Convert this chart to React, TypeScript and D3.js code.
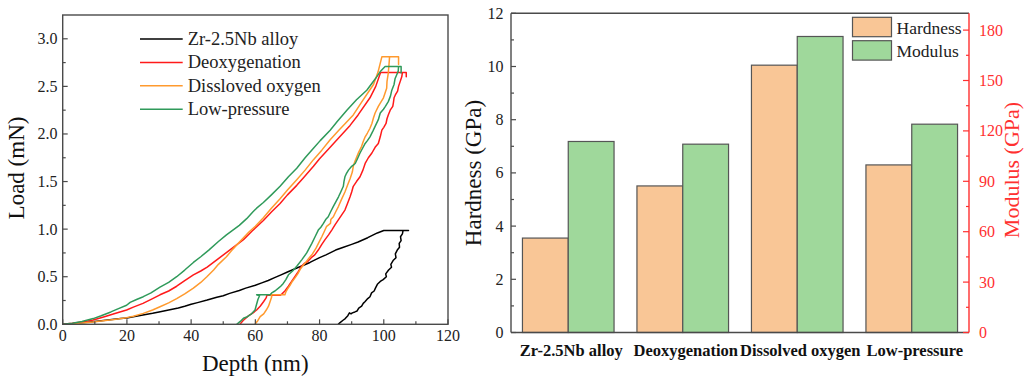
import React from 'react';
import * as d3 from 'd3';

// ---------- Left chart data (load-depth curves) ----------
const depthTicks = [0, 20, 40, 60, 80, 100, 120];
const loadTicks = [0, 0.5, 1.0, 1.5, 2.0, 2.5, 3.0];
const seriesNames = ['Zr-2.5Nb alloy', 'Deoxygenation', 'Dissloved oxygen', 'Low-pressure'];
const seriesColors = ['#000000', '#ff1a1a', '#ff9a2e', '#2f9a5a'];

const zrCurve: [number, number][] = [
  [0, 0], [3, 0.005], [6, 0.015], [10, 0.03], [14, 0.045], [18, 0.06], [20, 0.067], [22, 0.08], [25, 0.097],
  [28, 0.115], [30, 0.13], [33, 0.15], [36, 0.172], [38, 0.19], [40, 0.21], [42, 0.228], [45, 0.255],
  [48, 0.285], [50, 0.3], [52, 0.325], [55, 0.355], [57, 0.38], [60, 0.41], [62, 0.435], [64, 0.46],
  [66, 0.49], [68, 0.52], [70, 0.55], [72, 0.578], [75, 0.62], [77, 0.65], [80, 0.7], [82, 0.73],
  [85, 0.78], [87, 0.805], [90, 0.84], [92, 0.865], [95, 0.91], [98, 0.96], [100, 0.985],
  [103, 0.985], [106, 0.985], [107.7, 0.985],
  [106.0, 0.985], [105.8, 0.95], [105.2, 0.92], [105.4, 0.88], [104.8, 0.85], [104.9, 0.81], [104.2, 0.78],
  [103.6, 0.74], [103.8, 0.7], [102.9, 0.67], [102.2, 0.63], [102.4, 0.6], [101.5, 0.57], [100.6, 0.53],
  [100.8, 0.5], [99.8, 0.47], [98.9, 0.45], [98.0, 0.42], [97.4, 0.38], [97.0, 0.35], [96.2, 0.33],
  [95.7, 0.29], [95.0, 0.27], [94.2, 0.24], [93.6, 0.22], [93.1, 0.19], [92.2, 0.17], [91.7, 0.14],
  [91.0, 0.13], [90.2, 0.12], [89.8, 0.11], [89.3, 0.12], [88.8, 0.09], [88.0, 0.06], [87.2, 0.04],
  [86.3, 0.015], [85.8, 0],
];

const deoxCurve: [number, number][] = [
  [0, 0], [3, 0.01], [6, 0.025], [9.5, 0.045], [13, 0.08], [16, 0.11], [19.9, 0.15], [22, 0.18], [25, 0.22],
  [28, 0.27], [30.3, 0.31], [33, 0.35], [35.5, 0.4], [38, 0.46], [40.7, 0.52], [43, 0.56], [45, 0.6],
  [48.5, 0.69], [52, 0.78], [56.3, 0.89], [59, 0.98], [62.5, 1.09], [65, 1.18], [67.7, 1.27], [70, 1.36],
  [72.9, 1.46], [75, 1.54], [78.1, 1.66], [80, 1.74], [83.3, 1.86], [86, 1.96], [89.5, 2.09], [92, 2.2],
  [95.7, 2.38], [97.5, 2.5], [99, 2.645],
  [103, 2.645], [107, 2.645], [107, 2.6], [107, 2.645], [105.8, 2.645],
  [105.6, 2.6], [105.1, 2.55], [104.6, 2.5], [104.3, 2.45], [103.6, 2.41], [103.2, 2.38], [103.0, 2.33],
  [102.8, 2.29], [102.0, 2.25], [101.4, 2.2], [101.0, 2.16], [100.7, 2.11], [100.0, 2.07], [99.4, 2.04],
  [98.9, 1.97], [98.3, 1.9], [97.3, 1.86], [96.3, 1.8], [95.2, 1.75], [94.2, 1.69], [93.5, 1.62],
  [92.6, 1.55], [91.5, 1.5], [90.5, 1.45], [90.0, 1.39], [89.5, 1.34], [88.7, 1.27], [87.9, 1.2],
  [86.9, 1.15], [85.9, 1.1], [84.9, 1.05], [83.8, 0.99], [82.8, 0.94], [81.7, 0.89], [80.7, 0.84],
  [79.6, 0.78], [78.5, 0.73], [77.4, 0.7], [76.3, 0.66], [75.3, 0.64], [74.4, 0.61], [73.3, 0.55],
  [72.3, 0.5], [71.3, 0.45], [70.3, 0.4], [69.2, 0.35], [68.3, 0.32], [67.7, 0.305], [66.6, 0.305],
  [65.2, 0.305], [63.6, 0.305], [63.4, 0.28], [62.6, 0.24], [61.5, 0.19], [60.4, 0.15], [59.3, 0.12],
  [58.3, 0.1], [57.2, 0.07], [56.2, 0.04], [55.2, 0],
];

const dissolvedCurve: [number, number][] = [
  [0, 0], [4, 0.008], [8, 0.02], [12, 0.035], [16, 0.05], [19.9, 0.07], [22, 0.085], [25.1, 0.115],
  [28, 0.15], [30.3, 0.185], [33, 0.225], [35.5, 0.27], [38, 0.32], [40.7, 0.38], [43, 0.44], [44.9, 0.5],
  [47, 0.57], [48.5, 0.63], [51, 0.71], [53, 0.79], [55.2, 0.87], [58, 0.97], [60, 1.03], [62.5, 1.12],
  [65, 1.22], [67.7, 1.32], [70, 1.41], [72.9, 1.52], [75.5, 1.62], [78.1, 1.73], [80.7, 1.83],
  [83.3, 1.94], [86, 2.04], [88, 2.11], [90.5, 2.2], [93, 2.33], [95, 2.43], [96.8, 2.52], [98.2, 2.65],
  [99.4, 2.81],
  [102, 2.81], [104.6, 2.81], [104.6, 2.73], [104.6, 2.81], [101.8, 2.81],
  [101.6, 2.72], [101.4, 2.64], [101.0, 2.55], [100.9, 2.48], [100.3, 2.42], [99.9, 2.38], [99.0, 2.33],
  [98.3, 2.29], [97.3, 2.22], [96.8, 2.17], [96.3, 2.11], [95.7, 2.06], [94.9, 2.01], [94.2, 1.97],
  [93.6, 1.92], [93.1, 1.87], [92.2, 1.81], [91.6, 1.76], [91.0, 1.71], [90.5, 1.66], [90.2, 1.6],
  [89.5, 1.53], [88.7, 1.46], [87.9, 1.39], [86.8, 1.31], [85.9, 1.24], [85.0, 1.18], [84.3, 1.13],
  [83.5, 1.1], [83.4, 1.06], [82.2, 1.03], [81.4, 0.97], [80.7, 0.92], [79.8, 0.86], [78.9, 0.8],
  [77.8, 0.74], [76.8, 0.7], [75.9, 0.66], [74.9, 0.62], [74.0, 0.58], [73.2, 0.53], [72.4, 0.49],
  [71.5, 0.45], [70.8, 0.41], [70.0, 0.37], [69.5, 0.34], [69.2, 0.31], [67.5, 0.31], [66.0, 0.31],
  [64.8, 0.31], [65.1, 0.29], [64.6, 0.24], [64.1, 0.19], [63.4, 0.15], [62.6, 0.11], [61.5, 0.08],
  [60.8, 0.04], [59.9, 0],
];

const lowPressureCurve: [number, number][] = [
  [0, 0], [3, 0.01], [6, 0.03], [9.5, 0.06], [12, 0.09], [15, 0.13], [17, 0.16], [19.9, 0.2], [21, 0.23],
  [23, 0.26], [25.1, 0.29], [27.5, 0.33], [30.3, 0.39], [33, 0.44], [35.5, 0.5], [38, 0.57], [40.7, 0.65],
  [43, 0.71], [45.5, 0.78], [48.5, 0.87], [51, 0.94], [53, 0.99], [55, 1.04], [57.3, 1.11], [59.2, 1.18],
  [60.4, 1.22], [62.5, 1.28], [65, 1.36], [67.7, 1.45], [70.3, 1.55], [72.9, 1.64], [75.5, 1.75],
  [78.1, 1.85], [80.2, 1.93], [83.3, 2.04], [85.5, 2.13], [88.5, 2.25], [91.5, 2.36], [94.7, 2.46],
  [96.5, 2.54], [97.8, 2.6], [99, 2.66], [100.4, 2.71],
  [103, 2.71], [105.4, 2.71], [105.4, 2.64], [105.4, 2.71], [104.6, 2.71],
  [104.5, 2.66], [104.0, 2.62], [103.5, 2.58], [103.2, 2.52], [102.5, 2.46], [102.1, 2.4], [101.4, 2.34],
  [100.5, 2.29], [99.9, 2.26], [98.9, 2.22], [98.3, 2.15], [97.3, 2.08], [96.6, 2.03], [95.7, 1.97],
  [94.9, 1.93], [94.2, 1.9], [93.4, 1.85], [92.6, 1.8], [91.8, 1.74], [91.1, 1.69], [90.0, 1.66],
  [89.0, 1.62], [88.3, 1.58], [87.9, 1.55], [87.6, 1.5], [87.4, 1.45], [86.6, 1.39], [85.9, 1.34],
  [85.1, 1.29], [84.3, 1.24], [83.4, 1.18], [82.7, 1.13], [81.9, 1.1], [81.2, 1.06], [80.4, 1.02],
  [79.6, 0.99], [78.6, 0.92], [77.6, 0.85], [76.8, 0.8], [76.0, 0.75], [74.5, 0.68], [72.9, 0.61],
  [71.6, 0.56], [70.3, 0.52], [69.5, 0.47], [68.7, 0.43], [67.9, 0.4], [67.2, 0.38], [66.1, 0.35],
  [65.1, 0.33], [64.6, 0.31], [62.5, 0.31], [60.4, 0.31], [61.3, 0.3], [60.8, 0.26], [60.3, 0.2],
  [59.9, 0.15], [58.8, 0.11], [57.5, 0.08], [56.3, 0.063], [55.3, 0.03], [54.2, 0],
];

const curves = [zrCurve, deoxCurve, dissolvedCurve, lowPressureCurve];

// ---------- Right chart data (bars) ----------
const categories = ['Zr-2.5Nb alloy', 'Deoxygenation', 'Dissolved oxygen', 'Low-pressure'];
const barSeries = ['Hardness', 'Modulus'];
const hardness = [3.55, 5.51, 10.05, 6.3];
const modulus = [113.7, 112.1, 176.2, 124.0];
const hardnessTicks = [0, 2, 4, 6, 8, 10, 12];
const modulusTicks = [0, 30, 60, 90, 120, 150, 180];

const FONT = '"Liberation Serif", "Times New Roman", serif';
const AXIS = '#4a4a4a';
const RED = '#ff3030';

export default function App() {
  // Left chart scales
  const xL = d3.scaleLinear().domain([0, 120]).range([62.7, 448]);
  const yL = d3.scaleLinear().domain([0, 3.25]).range([324.3, 15]);
  const line = d3.line<[number, number]>().x((d) => xL(d[0])).y((d) => yL(d[1]));
  const xMinor = d3.range(10, 120, 20);
  const yMinor = d3.range(0.25, 3.25, 0.5);

  // Right chart scales
  const x0 = d3.scaleBand<string>().domain(categories).range([511, 969]).paddingInner(0.2).paddingOuter(0.1);
  const x1 = d3.scaleBand<string>().domain(barSeries).range([0, x0.bandwidth()]);
  const yH = d3.scaleLinear().domain([0, 12]).range([332.5, 13.3]);
  const yM = d3.scaleLinear().domain([0, 190]).range([332.5, 13.3]);
  const hMinor = d3.range(1, 12, 2);
  const mMinor = d3.range(15, 190, 30);
  const barFill = ['#f9c696', '#9fd89b'];

  return (
    <svg width={1025} height={378} style={{ position: 'absolute', left: 0, top: 0, background: '#fff' }} fontFamily={FONT}>
      <rect x={0} y={0} width={1025} height={378} fill="#fff" />
      {/* ===== Left chart ===== */}
      <g>
        {curves.map((c, i) => (
          <path key={i} d={line(c) || ''} fill="none" stroke={seriesColors[i]} strokeWidth={1.5} strokeLinejoin="round" />
        ))}
        <rect x={xL(0)} y={yL(3.25)} width={xL(120) - xL(0)} height={yL(0) - yL(3.25)} fill="none" stroke={AXIS} strokeWidth={1.4} />
        {depthTicks.map((t) => (
          <g key={'xt' + t}>
            <line x1={xL(t)} x2={xL(t)} y1={yL(0)} y2={yL(0) - 5} stroke={AXIS} strokeWidth={1.2} />
            <text x={xL(t)} y={341} fontSize={16} textAnchor="middle" fill="#222">{t}</text>
          </g>
        ))}
        {xMinor.map((t) => (
          <line key={'xm' + t} x1={xL(t)} x2={xL(t)} y1={yL(0)} y2={yL(0) - 3} stroke={AXIS} strokeWidth={1.2} />
        ))}
        {loadTicks.map((t) => (
          <g key={'yt' + t}>
            <line x1={xL(0)} x2={xL(0) + 5} y1={yL(t)} y2={yL(t)} stroke={AXIS} strokeWidth={1.2} />
            <text x={57.5} y={yL(t) + 5.5} fontSize={16} textAnchor="end" fill="#222">{t.toFixed(1)}</text>
          </g>
        ))}
        {yMinor.map((t) => (
          <line key={'ym' + t} x1={xL(0)} x2={xL(0) + 3} y1={yL(t)} y2={yL(t)} stroke={AXIS} strokeWidth={1.2} />
        ))}
        <text x={255.3} y={371} fontSize={23} textAnchor="middle" fill="#111">Depth (nm)</text>
        <text transform={`translate(24,168) rotate(-90)`} fontSize={23} textAnchor="middle" fill="#111">Load (mN)</text>
        {seriesNames.map((n, i) => {
          const cy = 39 + i * 23.4;
          return (
            <g key={'lg' + i}>
              <line x1={140} x2={182.7} y1={cy} y2={cy} stroke={seriesColors[i]} strokeWidth={1.5} />
              <text x={187.7} y={cy + 6} fontSize={18.5} fill="#222">{n}</text>
            </g>
          );
        })}
      </g>

      {/* ===== Right chart ===== */}
      <g>
        {categories.map((c, i) => (
          <g key={'bar' + c} transform={`translate(${x0(c)},0)`}>
            <rect x={x1('Hardness')} y={yH(hardness[i])} width={x1.bandwidth()} height={yH(0) - yH(hardness[i])}
              fill={barFill[0]} stroke="#555" strokeWidth={1.2} />
            <rect x={x1('Modulus')} y={yM(modulus[i])} width={x1.bandwidth()} height={yM(0) - yM(modulus[i])}
              fill={barFill[1]} stroke="#555" strokeWidth={1.2} />
          </g>
        ))}
        <line x1={511} x2={969} y1={yH(12)} y2={yH(12)} stroke={AXIS} strokeWidth={1.4} />
        <line x1={511} x2={969} y1={yH(0)} y2={yH(0)} stroke={AXIS} strokeWidth={1.4} />
        <line x1={511} x2={511} y1={yH(0)} y2={yH(12)} stroke={AXIS} strokeWidth={1.4} />
        <line x1={969} x2={969} y1={yM(0)} y2={yH(12)} stroke={RED} strokeWidth={1.4} />
        {hardnessTicks.map((t) => (
          <g key={'ht' + t}>
            <line x1={511} x2={516} y1={yH(t)} y2={yH(t)} stroke={AXIS} strokeWidth={1.2} />
            <text x={503.5} y={yH(t) + 5.5} fontSize={16} textAnchor="end" fill="#222">{t}</text>
          </g>
        ))}
        {hMinor.map((t) => (
          <line key={'hm' + t} x1={511} x2={514} y1={yH(t)} y2={yH(t)} stroke={AXIS} strokeWidth={1.2} />
        ))}
        {modulusTicks.map((t) => (
          <g key={'mt' + t}>
            <line x1={969} x2={963} y1={yM(t)} y2={yM(t)} stroke={RED} strokeWidth={1.2} />
            <text x={979} y={yM(t) + 5.5} fontSize={16} textAnchor="start" fill={RED}>{t}</text>
          </g>
        ))}
        {mMinor.map((t) => (
          <line key={'mm' + t} x1={969} x2={966} y1={yM(t)} y2={yM(t)} stroke={RED} strokeWidth={1.2} />
        ))}
        {categories.map((c) => (
          <text key={'cl' + c} x={(x0(c) || 0) + x0.bandwidth() / 2 + 3} y={355.5} fontSize={16.5} fontWeight="bold"
            textAnchor="middle" fill="#111">{c}</text>
        ))}
        <text transform={`translate(481,173) rotate(-90)`} fontSize={23} textAnchor="middle" fill="#111">Hardness (GPa)</text>
        <text transform={`translate(1018.5,170) rotate(-90)`} fontSize={22} textAnchor="middle" fill={RED}>Modulus (GPa)</text>
        {barSeries.map((s, i) => (
          <g key={'bl' + s}>
            <rect x={852.5} y={17.3 + i * 23.4} width={39} height={19.4} fill={barFill[i]} stroke="#555" strokeWidth={1.2} />
            <text x={896.5} y={34 + i * 23} fontSize={17.5} fill="#222">{s}</text>
          </g>
        ))}
      </g>
    </svg>
  );
}
